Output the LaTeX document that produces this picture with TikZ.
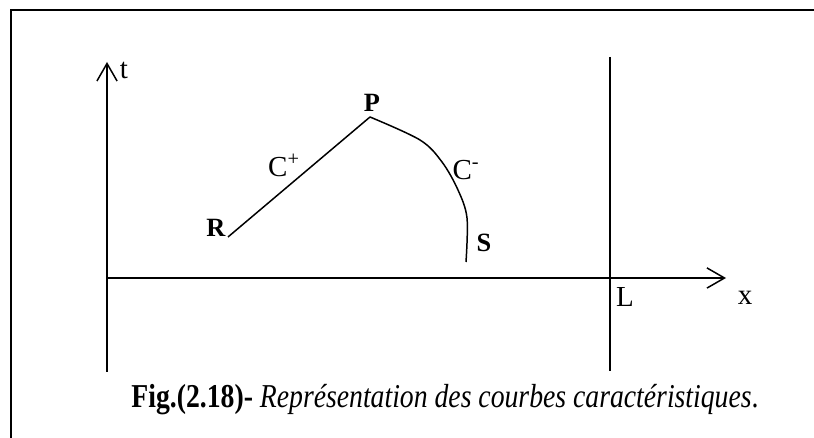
\documentclass[tikz,border=0pt]{standalone}
\usepackage{fontspec}
\setmainfont{Liberation Serif}
\usetikzlibrary{arrows.meta}

\begin{document}
\begin{tikzpicture}[
  x=0.02cm, y=-0.02cm,
  axis/.style={line width=0.85pt, -{Straight Barb[length=10pt, width=11.5pt, line width=0.85pt]}},
  wall/.style={line width=0.85pt},
  curve/.style={line width=0.85pt, line join=round},
  lbl/.style={inner sep=0pt, font=\fontsize{16.5}{18}\selectfont},
  pt/.style={inner sep=0pt, font=\fontsize{15}{16}\selectfont\bfseries}
]
  \useasboundingbox (0,0) rectangle (814,438);
  % frame (cut by the page on the right and at the bottom)
  \draw[line width=1.1pt] (11,438) -- (11,10) -- (814,10);

  % axes
  \coordinate (O) at (107,278);
  \coordinate (tbot) at (107,372);
  \coordinate (ttop) at (107,62);
  \coordinate (xend) at (726,278);
  \draw[axis] (tbot) -- (ttop);
  \draw[axis] (O) -- (xend);
  \node[lbl] (tlab) at (124,70) {t};
  \node[lbl] (xlab) at (745,298) {x};

  % line x = L
  \coordinate (Ltop) at (610,57);
  \coordinate (Lbot) at (610,371);
  \draw[wall] (Ltop) -- (Lbot);
  \node[lbl] (Llab) at (625,297) {L};

  % characteristics
  \coordinate (R) at (228,237);
  \coordinate (P) at (370,117);
  \coordinate (S) at (466,262);
  \draw[curve] (R) -- (P);
  \draw[curve] plot[smooth, tension=0.55] coordinates
    {(P) (420,140) (442,162) (458,190) (467,218) (S)};
  \node[pt] (Rlab) at (216,228) {R};
  \node[pt] (Plab) at (372,103) {P};
  \node[pt] (Slab) at (484,243) {S};
  \node[lbl] (Cplus) at (284,165) {C\textsuperscript{+}};
  \node[lbl] (Cminus) at (466,170) {C\textsuperscript{-}};

  % caption
  \node[inner sep=0pt, font=\fontsize{19}{22}\selectfont] (cap) at (445,400)
    {\scalebox{0.83}[1]{\textbf{Fig.(2.18)-} \textit{Représentation des courbes caractéristiques}.}};
\end{tikzpicture}
\end{document}
